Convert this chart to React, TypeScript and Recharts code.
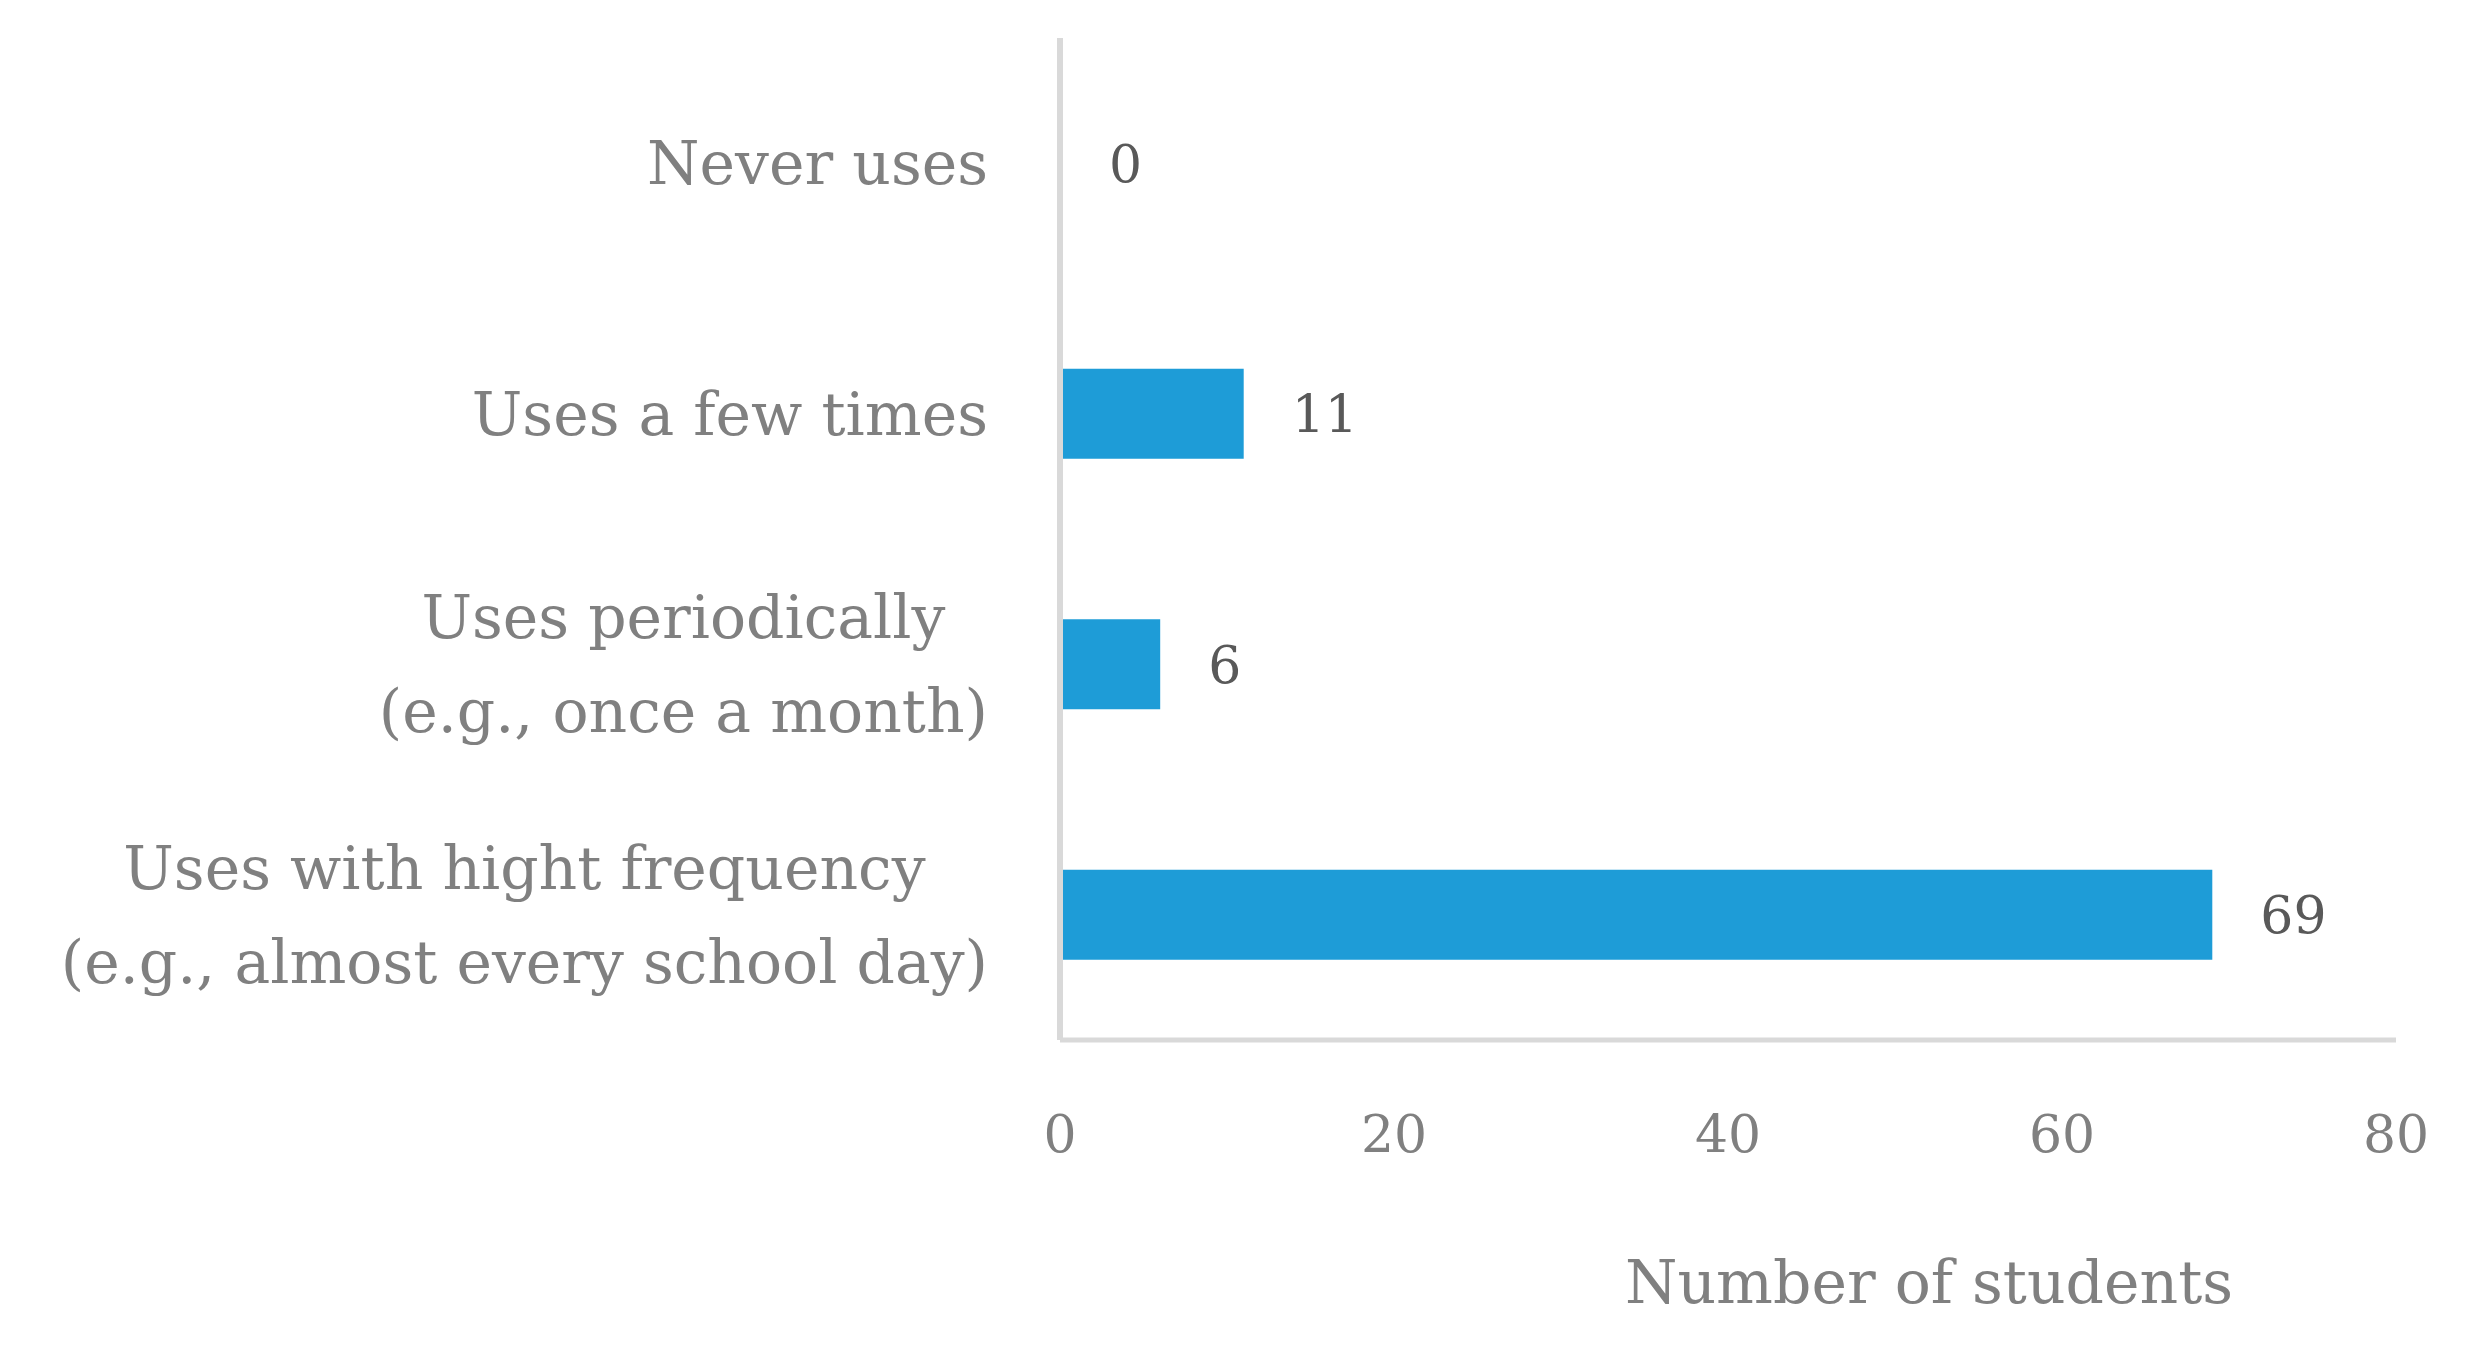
import React from 'react'
import { BarChart, Bar, XAxis, YAxis, LabelList, Cell } from 'recharts'

const categories = [
  'Never uses',
  'Uses a few times',
  'Uses periodically\n(e.g., once a month)',
  'Uses with hight frequency\n(e.g., almost every school day)',
]
const students = [0, 11, 6, 69]
const xTicks = [0, 20, 40, 60, 80]

const data = categories.map((label, i) => ({ label, students: students[i] }))

const FONT = '"DejaVu Serif", serif'
const CAT_SIZE = 60
const NUM_SIZE = 52
const GRAY = '#808080'
const AXIS = '#d9d9d9'
const BAR = '#1e9cd7'

let ctx: CanvasRenderingContext2D | null = null
function measure(text: string, size: number) {
  if (!ctx) ctx = document.createElement('canvas').getContext('2d')
  if (!ctx) return text.length * size * 0.55
  ctx.font = `${size}px ${FONT}`
  return ctx.measureText(text).width
}

// multi-line labels are centred on each other, block right-aligned
function CategoryTick(props: any) {
  const { x, y, payload } = props
  const lines: string[] = String(payload.value).split('\n')
  const widths = lines.map((l) => measure(l, CAT_SIZE))
  const maxW = Math.max(...widths)
  const right = x - 64
  const cx = right - maxW / 2
  const lh = 94
  const startY = y - ((lines.length - 1) * lh) / 2
  return (
    <g>
      {lines.map((l, i) => (
        <text
          key={i}
          x={cx}
          y={startY + i * lh}
          dy="0.35em"
          textAnchor="middle"
          fill={GRAY}
          fontFamily={FONT}
          fontSize={CAT_SIZE}
        >
          {l}
        </text>
      ))}
    </g>
  )
}

function ValueTick(props: any) {
  const { x, y, payload } = props
  return (
    <text x={x} y={y + 86} dy="0.35em" textAnchor="middle" fill={GRAY} fontFamily={FONT} fontSize={NUM_SIZE}>
      {payload.value}
    </text>
  )
}

export default function App() {
  return (
    <div style={{ width: 2471, height: 1347, background: '#fff' }}>
      <style>{`body{margin:0}`}</style>
      <BarChart
        width={2471}
        height={1347}
        data={data}
        layout="vertical"
        margin={{ top: 38, right: 75, bottom: 0, left: 0 }}
        barCategoryGap="32%"
      >
        <XAxis
          type="number"
          domain={[0, 80]}
          ticks={xTicks}
          tick={<ValueTick />}
          tickLine={false}
          axisLine={{ stroke: AXIS, strokeWidth: 5 }}
          height={307}
          label={{
            value: 'Number of students',
            position: 'insideBottom',
            offset: 44,
            dx: 201,
            fill: GRAY,
            fontFamily: FONT,
            fontSize: CAT_SIZE,
          }}
        />
        <YAxis
          type="category"
          dataKey="label"
          width={1060}
          tick={<CategoryTick />}
          tickLine={false}
          axisLine={{ stroke: AXIS, strokeWidth: 6 }}
          interval={0}
        />
        <Bar dataKey="students" fill={BAR} minPointSize={1} isAnimationActive={false}>
          {data.map((d, i) => (
            <Cell key={i} fill={d.students === 0 ? 'transparent' : BAR} />
          ))}
          <LabelList
            dataKey="students"
            position="right"
            offset={48}
            fill="#595959"
            fontFamily={FONT}
            fontSize={NUM_SIZE}
          />
        </Bar>
      </BarChart>
    </div>
  )
}
